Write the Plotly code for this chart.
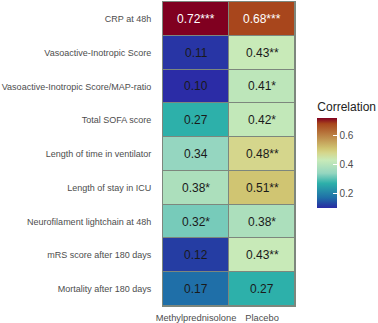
import plotly.graph_objects as go

# Correlation heatmap: outcomes vs. treatment group
outcomes = [
    "CRP at 48h",
    "Vasoactive-Inotropic Score",
    "Vasoactive-Inotropic Score/MAP-ratio",
    "Total SOFA score",
    "Length of time in ventilator",
    "Length of stay in ICU",
    "Neurofilament lightchain at 48h",
    "mRS score after 180 days",
    "Mortality after 180 days",
]
groups = ["Methylprednisolone", "Placebo"]

methylprednisolone = [0.72, 0.11, 0.10, 0.27, 0.34, 0.38, 0.32, 0.12, 0.17]
placebo = [0.68, 0.43, 0.41, 0.42, 0.48, 0.51, 0.38, 0.43, 0.27]

stars_methyl = ["***", "", "", "", "", "*", "*", "", ""]
stars_placebo = ["***", "**", "*", "*", "**", "**", "*", "**", ""]

z = [[m, p] for m, p in zip(methylprednisolone, placebo)]
labels = [[f"{m:.2f}{sm}", f"{p:.2f}{sp}"]
          for m, p, sm, sp in zip(methylprednisolone, placebo, stars_methyl, stars_placebo)]

zmin = min(methylprednisolone + placebo)
zmax = max(methylprednisolone + placebo)

def norm(v):
    return (v - zmin) / (zmax - zmin)

colorscale = [
    [0.0, "#2b2ca6"],
    [norm(0.12), "#253da3"],
    [norm(0.17), "#1f6fa8"],
    [norm(0.27), "#2db0aa"],
    [norm(0.34), "#95d6c0"],
    [norm(0.43), "#c8eab8"],
    [norm(0.48), "#d5d68c"],
    [norm(0.51), "#d0c572"],
    [norm(0.68), "#a8461c"],
    [1.0, "#800020"],
]

fig = go.Figure(go.Heatmap(
    z=z, x=groups, y=outcomes,
    zmin=zmin, zmax=zmax,
    colorscale=colorscale,
    xgap=1, ygap=1,
    hoverinfo="skip",
    colorbar=dict(
        title=dict(text="Correlation", side="top",
                   font=dict(family="Liberation Sans, Arial", size=12, color="#222")),
        thickness=20, thicknessmode="pixels",
        len=109, lenmode="pixels",
        x=1.169, xanchor="left", xpad=0,
        y=0.68, yanchor="top", ypad=0,
        outlinewidth=0,
        tickvals=[0.2, 0.4, 0.6],
        ticktext=["0.2", "0.4", "0.6"],
        ticks="inside", ticklen=4, tickcolor="white",
        tickfont=dict(family="Liberation Sans, Arial", size=10, color="#4d4d4d"),
    ),
))

for i, name in enumerate(outcomes):
    for j, g in enumerate(groups):
        fig.add_annotation(
            x=g, y=name, text=labels[i][j], showarrow=False,
            font=dict(family="Liberation Sans, Arial", size=12,
                      color="white" if z[i][j] >= 0.6 else "#1a1a1a"),
        )

fig.update_layout(
    width=378, height=323,
    margin=dict(l=163, r=79, t=2, b=17),
    paper_bgcolor="white",
    plot_bgcolor="#7d877d",
    font=dict(family="Liberation Sans, Arial"),
    xaxis=dict(showgrid=False, zeroline=False, side="bottom",
               tickangle=0, automargin=False,
               ticks="outside", ticklen=3, tickcolor="rgba(0,0,0,0)",
               tickfont=dict(size=9.3, color="#4d4d4d"),
               showline=True, linecolor="#7d877d", linewidth=1, mirror=True),
    yaxis=dict(showgrid=False, zeroline=False, autorange="reversed",
               automargin=False,
               ticks="outside", ticklen=9, tickcolor="rgba(0,0,0,0)",
               tickfont=dict(size=9.0, color="#4d4d4d"),
               showline=True, linecolor="#7d877d", linewidth=1, mirror=True),
)

fig.write_html("out.html")
